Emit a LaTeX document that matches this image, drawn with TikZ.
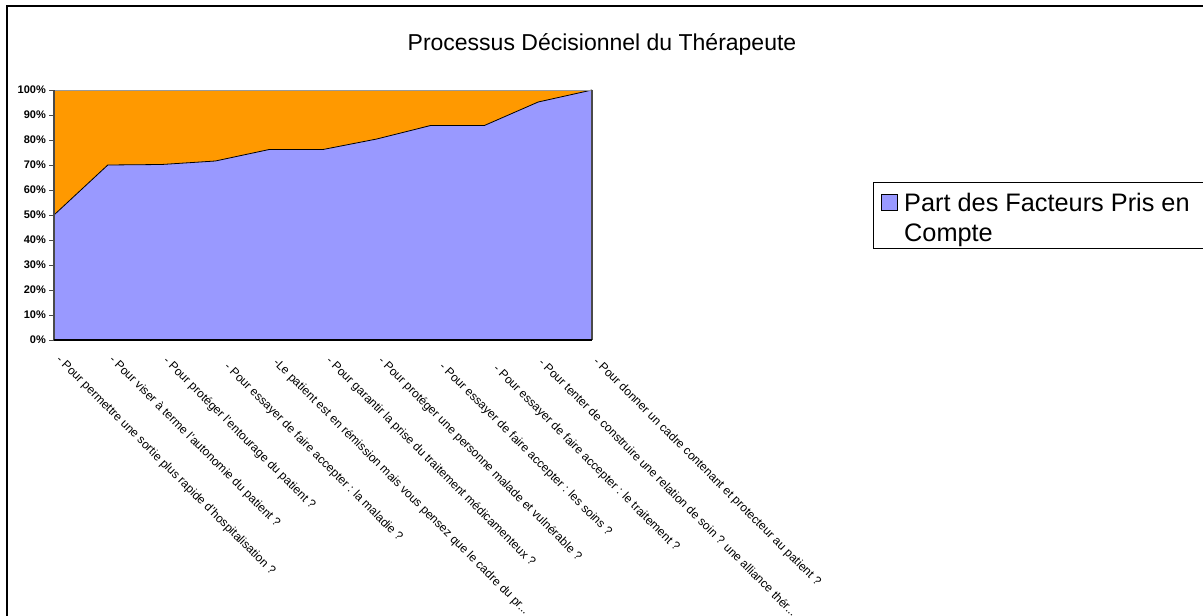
\documentclass[tikz,border=0pt]{standalone}
\usepackage{fontspec}
\setmainfont{Liberation Sans}
\definecolor{areaorange}{HTML}{FF9900}
\definecolor{areablue}{HTML}{9999FF}
\definecolor{axisgray}{HTML}{4A4A4A}
\definecolor{bordergray}{HTML}{9A9A9A}
\tikzset{
  ylab/.style={anchor=east, inner sep=0pt, font=\fontsize{11}{12}\selectfont\bfseries},
  catlab/.style={anchor=west, inner sep=0pt, rotate=-45, font=\fontsize{12}{14}\selectfont},
  titlestyle/.style={anchor=base, inner sep=0pt, font=\fontsize{23}{27}\selectfont},
  legtext/.style={anchor=base west, inner sep=0pt, font=\fontsize{25.3}{30}\selectfont, align=left},
}
\begin{document}
\begin{tikzpicture}[x=1pt,y=-1pt]
\useasboundingbox (0,0) rectangle (1203,616);
\begin{scope}
\clip (0,0) rectangle (1203,616);
% outer chart frame
\draw[line width=1.6pt] (7,640) -- (7,6) -- (1220,6);
% title
\node[titlestyle] (title) at (602,50) {Processus Décisionnel du Thérapeute};
% plot area
\fill[areaorange] (54,90) rectangle (592,340);
\fill[areablue] (54,340) -- (54,215) -- (107.8,165) -- (161.6,164.5) -- (215.4,161) -- (269.2,149.5)
  -- (323,149.5) -- (376.8,139) -- (430.6,125.5) -- (484.4,125.5) -- (538.2,102) -- (592,90) -- (592,340) -- cycle;
\draw[line width=0.8pt, line join=round] (54,215) -- (107.8,165) -- (161.6,164.5) -- (215.4,161) -- (269.2,149.5)
  -- (323,149.5) -- (376.8,139) -- (430.6,125.5) -- (484.4,125.5) -- (538.2,102) -- (592,90);
\draw[bordergray, line width=0.9pt] (54,90) -- (592,90);
\draw[axisgray, line width=1.1pt] (592,90) -- (592,340);
\draw[axisgray, line width=1.1pt] (54,90) -- (54,340);
\draw[black, line width=1.1pt] (54,340) -- (592,340);
% y ticks and labels
\foreach \v [count=\k from 0] in {0\%,10\%,20\%,30\%,40\%,50\%,60\%,70\%,80\%,90\%,100\%}{
  \draw[axisgray, line width=0.9pt] (49,340-25*\k) -- (54,340-25*\k);
  \node[ylab] (y\k) at (46,340-25*\k) {\v};
}
% category labels
\node[catlab] (c1) at (58,358) {- Pour permettre une sortie plus rapide d'hospitalisation ?};
\node[catlab] (c2) at (111,358) {- Pour viser à terme l'autonomie du patient ?};
\node[catlab] (c3) at (165,359) {- Pour protéger l'entourage du patient ?};
\node[catlab] (c4) at (226,365) {- Pour essayer de faire accepter : la maladie ?};
\node[catlab] (c5) at (275,361) {-Le patient est en rémission mais vous pensez que le cadre du pr...};
\node[catlab] (c6) at (328,359) {- Pour garantir la prise du traitement médicamenteux ?};
\node[catlab] (c7) at (380,359) {- Pour protéger une personne malade et vulnérable ?};
\node[catlab] (c8) at (441,365) {- Pour essayer de faire accepter : les soins ?};
\node[catlab] (c9) at (495,367) {- Pour essayer de faire accepter : le traitement ?};
\node[catlab] (c10) at (541,360) {- Pour tenter de construire une relation de soin ? une alliance thér...};
\node[catlab] (c11) at (595,360) {- Pour donner un cadre contenant et protecteur au patient ?};
% legend
\draw[black, line width=0.9pt] (873,182) rectangle (1220,248);
\filldraw[fill=areablue, draw=black, line width=0.8pt] (881,194) rectangle (897,210);
\node[legtext] (leg) at (904,241) {Part des Facteurs Pris en\\Compte};
\end{scope}
\end{tikzpicture}
\end{document}
